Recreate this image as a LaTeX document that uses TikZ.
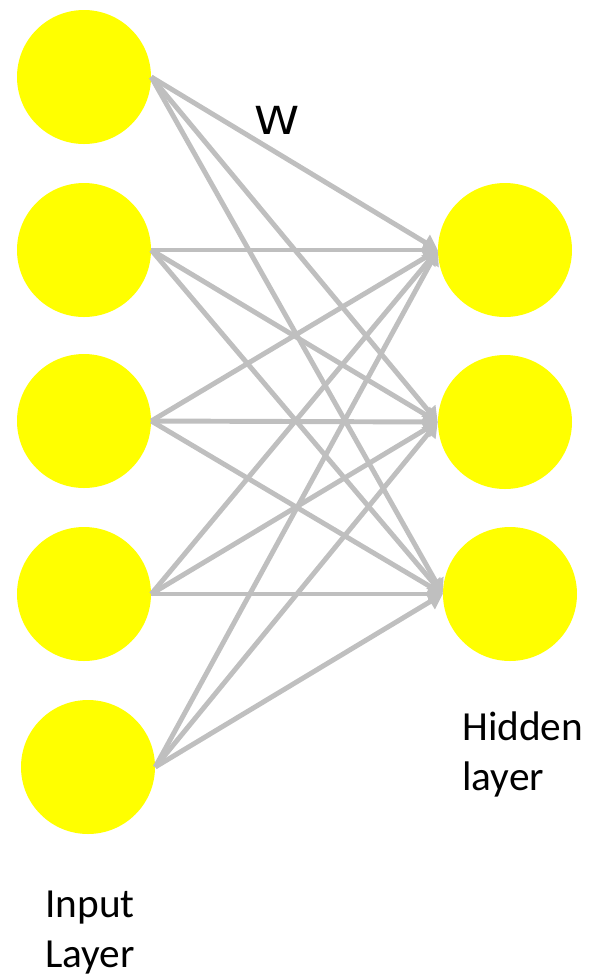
\documentclass[tikz,border=0pt]{standalone}
\usepackage{fontspec}
\setmainfont{Carlito}
\newfontfamily\wfont{DejaVu Sans}
\usetikzlibrary{arrows.meta}
\definecolor{nodeyellow}{RGB}{255,255,0}
\definecolor{edgegray}{RGB}{191,191,191}
\begin{document}
\begin{tikzpicture}[x=0.75pt,y=-0.75pt,
  neuron/.style={circle,fill=nodeyellow,draw=none,inner sep=0pt,minimum size=100.5pt},
  wedge/.style={draw=edgegray,line width=3.7pt,-{Triangle[length=11pt,width=13pt]}},
  lbl/.style={anchor=base west,inner sep=0pt,font=\fontsize{31pt}{37.5pt}\selectfont}]
\useasboundingbox (0,0) rectangle (591,976);
\node[neuron] (i1) at (84,77) {};
\node[neuron] (i2) at (84,250) {};
\node[neuron] (i3) at (84,421) {};
\node[neuron] (i4) at (84,594) {};
\node[neuron] (i5) at (88,767) {};
\node[neuron] (h1) at (505,250) {};
\node[neuron] (h2) at (505,422) {};
\node[neuron] (h3) at (510,594) {};
\foreach \i in {1,...,5}{
  \foreach \h in {1,2,3}{
    \draw[wedge] (i\i.east) -- (h\h.west);
  }
}
\node[anchor=base,inner sep=0pt,font=\wfont\fontsize{29pt}{30pt}\selectfont,xscale=1.18] (w) at (277,134) {W};
\node[lbl] (hid1) at (462,740) {Hidden};
\node[lbl] (hid2) at (462,790) {layer};
\node[lbl] (in1) at (45,917) {Input};
\node[lbl] (in2) at (45,967) {Layer};
\end{tikzpicture}
\end{document}
